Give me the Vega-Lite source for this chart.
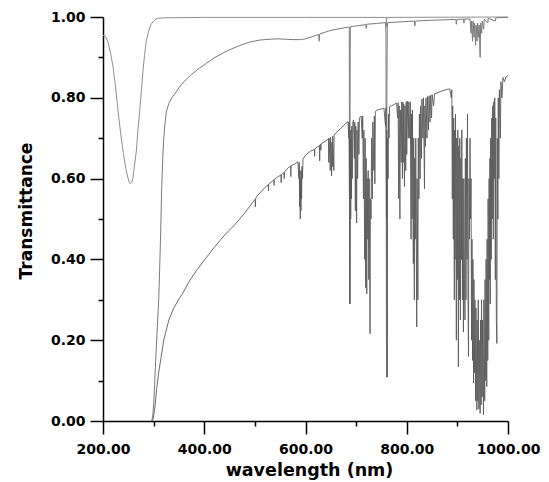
{
"$schema": "https://vega.github.io/schema/vega-lite/v6.json",
"width": 405, "height": 404,
"autosize": {"type": "none"},
"padding": {"left": 103, "top": 17, "right": 41, "bottom": 61},
"background": "white",
"config": {
 "view": {"stroke": null},
 "axis": {"labelFont": "DejaVu Sans", "labelFontWeight": "bold", "labelFontSize": 14, "labelColor": "black",
  "titleFont": "DejaVu Sans", "titleFontWeight": "bold", "titleFontSize": 17, "titleColor": "black",
  "domainColor": "black", "tickColor": "black", "domainWidth": 1.5, "tickWidth": 1.5, "grid": false}
},
"datasets": {
 "a": [
  {"x":200,"y":0.955},{"x":205,"y":0.952},{"x":210,"y":0.937},{"x":215,"y":0.91},{"x":220,"y":0.875},{"x":225,"y":0.825},{"x":230,"y":0.765},{"x":235,"y":0.71},{"x":240,"y":0.665},{"x":245,"y":0.625},{"x":249,"y":0.603},{"x":252,"y":0.59},{"x":254,"y":0.587},{"x":256,"y":0.59},{"x":259,"y":0.6},{"x":262,"y":0.63},{"x":266,"y":0.67},{"x":269,"y":0.72},{"x":272.5,"y":0.768},{"x":276,"y":0.82},{"x":279,"y":0.867},{"x":282,"y":0.905},{"x":285.6,"y":0.941},{"x":290,"y":0.965},{"x":295,"y":0.982},{"x":300,"y":0.99},{"x":305,"y":0.995},{"x":310,"y":0.997},{"x":320,"y":0.998},{"x":400,"y":0.999},{"x":600,"y":0.999},{"x":759.5,"y":0.999},{"x":760,"y":0.975},{"x":760.5,"y":0.999},{"x":1000,"y":1.0}
 ],
 "b": [
  {"x":296,"y":0},{"x":298,"y":0.01},{"x":300,"y":0.04},{"x":302,"y":0.09},{"x":304,"y":0.15},{"x":306,"y":0.2},{"x":308,"y":0.25},{"x":310,"y":0.3},{"x":312,"y":0.38},{"x":314,"y":0.47},{"x":316,"y":0.58},{"x":318,"y":0.65},{"x":320,"y":0.7},{"x":322,"y":0.73},{"x":325,"y":0.765},{"x":330,"y":0.786},{"x":336,"y":0.8},{"x":342,"y":0.81},{"x":350,"y":0.825},{"x":360,"y":0.84},{"x":375,"y":0.858},{"x":390,"y":0.873},{"x":405,"y":0.886},{"x":421,"y":0.9},{"x":445,"y":0.916},{"x":467,"y":0.928},{"x":490,"y":0.938},{"x":510,"y":0.943},{"x":530,"y":0.945},{"x":546,"y":0.946},{"x":560,"y":0.945},{"x":575,"y":0.944},{"x":590,"y":0.944},{"x":600,"y":0.946},{"x":615,"y":0.952},{"x":626,"y":0.957},{"x":627,"y":0.94},{"x":628,"y":0.958},{"x":650,"y":0.967},{"x":684,"y":0.975},{"x":686.5,"y":0.975},{"x":687.2,"y":0.29},{"x":687.8,"y":0.7},{"x":688.5,"y":0.976},{"x":700,"y":0.978},{"x":719,"y":0.981},{"x":720,"y":0.972},{"x":721,"y":0.982},{"x":740,"y":0.984},{"x":758,"y":0.986},{"x":759,"y":0.96},{"x":760,"y":0.108},{"x":760.7,"y":0.8},{"x":761.5,"y":0.975},{"x":762.5,"y":0.986},{"x":790,"y":0.988},{"x":815,"y":0.99},{"x":816,"y":0.978},{"x":817,"y":0.99},{"x":850,"y":0.992},{"x":897,"y":0.994},{"x":898,"y":0.982},{"x":899,"y":0.994},{"x":912,"y":0.995},{"x":913,"y":0.985},{"x":914,"y":0.995},{"x":925,"y":0.995},{"x":927,"y":0.96},{"x":928,"y":0.99},{"x":930,"y":0.94},{"x":931,"y":0.99},{"x":933,"y":0.95},{"x":934,"y":0.985},{"x":936,"y":0.93},{"x":937,"y":0.98},{"x":939,"y":0.94},{"x":940,"y":0.985},{"x":942,"y":0.95},{"x":943,"y":0.98},{"x":945,"y":0.9},{"x":946,"y":0.985},{"x":948,"y":0.96},{"x":949,"y":0.99},{"x":952,"y":0.97},{"x":953,"y":0.995},{"x":960,"y":0.985},{"x":961,"y":0.997},{"x":975,"y":0.99},{"x":976,"y":0.998},{"x":1000,"y":0.999}
 ],
 "c": [
  {"x":297,"y":0},{"x":299,"y":0.005},{"x":301,"y":0.02},{"x":303,"y":0.04},{"x":306,"y":0.08},{"x":310,"y":0.12},{"x":315,"y":0.16},{"x":320,"y":0.2},{"x":325,"y":0.225},{"x":330,"y":0.25},{"x":340,"y":0.28},{"x":350,"y":0.302},{"x":357,"y":0.315},{"x":370,"y":0.345},{"x":385,"y":0.373},{"x":400,"y":0.398},{"x":420,"y":0.43},{"x":440,"y":0.46},{"x":462,"y":0.488},{"x":480,"y":0.515},{"x":495,"y":0.54},
  {"x":500.5,"y":0.549},{"x":501,"y":0.53},{"x":501.5,"y":0.55},{"x":503,"y":0.555},{"x":520,"y":0.578},{"x":526.6,"y":0.585},{"x":527,"y":0.57},{"x":527.4,"y":0.586},{"x":537.6,"y":0.597},{"x":538,"y":0.583},{"x":538.4,"y":0.598},{"x":545,"y":0.604},{"x":551.6,"y":0.609},{"x":552,"y":0.59},{"x":552.4,"y":0.61},{"x":557.6,"y":0.615},{"x":558,"y":0.6},{"x":558.4,"y":0.616},{"x":566,"y":0.627},{"x":570.6,"y":0.631},{"x":571,"y":0.605},{"x":571.4,"y":0.632},{"x":580,"y":0.637},{"x":585,"y":0.642},
  {"x":587,"y":0.6},{"x":587.6,"y":0.64},{"x":588.5,"y":0.53},{"x":589,"y":0.62},{"x":589.6,"y":0.5},{"x":590.2,"y":0.6},{"x":591,"y":0.52},{"x":591.6,"y":0.62},{"x":592.3,"y":0.55},{"x":593,"y":0.63},{"x":594,"y":0.6},{"x":595,"y":0.648},{"x":600,"y":0.658},{"x":610,"y":0.668},
  {"x":617.6,"y":0.672},{"x":618,"y":0.655},{"x":618.4,"y":0.674},{"x":627.6,"y":0.682},{"x":628,"y":0.644},{"x":628.4,"y":0.683},{"x":630,"y":0.685},{"x":630.4,"y":0.67},{"x":630.8,"y":0.686},{"x":640,"y":0.693},{"x":645.6,"y":0.699},{"x":646,"y":0.64},{"x":646.5,"y":0.7},{"x":649,"y":0.62},{"x":649.5,"y":0.702},{"x":651.6,"y":0.607},{"x":652.2,"y":0.69},{"x":653,"y":0.63},{"x":653.7,"y":0.705},{"x":656,"y":0.62},{"x":656.5,"y":0.708},{"x":660,"y":0.713},{"x":670,"y":0.725},{"x":680,"y":0.737},{"x":684,"y":0.741},
  {"x":685.5,"y":0.7},{"x":686,"y":0.74},{"x":686.8,"y":0.55},{"x":687.3,"y":0.72},{"x":688,"y":0.29},{"x":688.6,"y":0.7},{"x":689.3,"y":0.5},{"x":690,"y":0.72},{"x":690.8,"y":0.55},{"x":691.5,"y":0.73},{"x":692.5,"y":0.6},{"x":693.5,"y":0.74},{"x":695,"y":0.745},{"x":696.5,"y":0.65},{"x":697.3,"y":0.74},{"x":698.5,"y":0.52},{"x":699.3,"y":0.73},{"x":701,"y":0.49},{"x":701.8,"y":0.72},{"x":703,"y":0.6},{"x":704,"y":0.74},{"x":705.5,"y":0.66},{"x":706.5,"y":0.75},{"x":708,"y":0.752},{"x":710,"y":0.755},
  {"x":712,"y":0.7},{"x":713,"y":0.755},{"x":714.5,"y":0.55},{"x":715.3,"y":0.72},{"x":717,"y":0.4},{"x":717.8,"y":0.7},{"x":719,"y":0.33},{"x":719.8,"y":0.65},{"x":721,"y":0.315},{"x":721.8,"y":0.6},{"x":723,"y":0.45},{"x":723.8,"y":0.62},{"x":725,"y":0.35},{"x":725.8,"y":0.6},{"x":727.5,"y":0.216},{"x":728.3,"y":0.55},{"x":729.5,"y":0.5},{"x":730.5,"y":0.7},{"x":732,"y":0.55},{"x":733,"y":0.74},{"x":735,"y":0.62},{"x":736,"y":0.755},{"x":737,"y":0.587},{"x":738,"y":0.765},{"x":740,"y":0.769},{"x":745,"y":0.771},
  {"x":755,"y":0.774},{"x":758,"y":0.73},{"x":759,"y":0.775},{"x":760,"y":0.5},{"x":760.6,"y":0.72},{"x":761.5,"y":0.109},{"x":762.2,"y":0.7},{"x":763,"y":0.6},{"x":764,"y":0.76},{"x":765,"y":0.7},{"x":766,"y":0.778},{"x":770,"y":0.78},{"x":780,"y":0.787},
  {"x":782,"y":0.75},{"x":783,"y":0.788},{"x":784,"y":0.55},{"x":785,"y":0.78},{"x":786.5,"y":0.5},{"x":787.3,"y":0.77},{"x":789,"y":0.64},{"x":790,"y":0.789},{"x":791.5,"y":0.6},{"x":792.3,"y":0.79},{"x":793,"y":0.64},{"x":794,"y":0.785},{"x":795.5,"y":0.58},{"x":796.5,"y":0.78},{"x":798,"y":0.62},{"x":799,"y":0.79},{"x":800,"y":0.66},{"x":801,"y":0.792},{"x":803,"y":0.7},{"x":804,"y":0.79},
  {"x":806,"y":0.7},{"x":807,"y":0.79},{"x":808.5,"y":0.45},{"x":809.3,"y":0.76},{"x":810.5,"y":0.5},{"x":811.2,"y":0.77},{"x":813,"y":0.39},{"x":813.7,"y":0.7},{"x":815,"y":0.3},{"x":815.7,"y":0.65},{"x":817,"y":0.45},{"x":817.8,"y":0.7},{"x":819.7,"y":0.233},{"x":820.4,"y":0.6},{"x":822,"y":0.3},{"x":822.8,"y":0.7},{"x":824,"y":0.55},{"x":825,"y":0.76},{"x":826.5,"y":0.6},{"x":827.5,"y":0.78},{"x":829,"y":0.65},{"x":830,"y":0.797},
  {"x":832,"y":0.7},{"x":833,"y":0.8},{"x":835,"y":0.575},{"x":835.8,"y":0.78},{"x":837,"y":0.68},{"x":838,"y":0.8},{"x":840,"y":0.7},{"x":841,"y":0.803},{"x":843,"y":0.72},{"x":844,"y":0.805},{"x":846,"y":0.74},{"x":847,"y":0.806},{"x":849,"y":0.75},{"x":850,"y":0.808},{"x":853,"y":0.78},{"x":855,"y":0.81},{"x":860,"y":0.812},{"x":870,"y":0.817},{"x":880,"y":0.821},{"x":885,"y":0.822},
  {"x":888,"y":0.8},{"x":889,"y":0.82},{"x":890,"y":0.55},{"x":890.8,"y":0.78},{"x":892,"y":0.45},{"x":892.7,"y":0.75},{"x":894,"y":0.3},{"x":894.7,"y":0.72},{"x":895.5,"y":0.4},{"x":896.3,"y":0.76},{"x":898,"y":0.2},{"x":898.7,"y":0.7},{"x":900,"y":0.35},{"x":900.8,"y":0.72},{"x":902,"y":0.134},{"x":902.8,"y":0.68},{"x":904,"y":0.3},{"x":904.8,"y":0.7},{"x":906,"y":0.25},{"x":906.8,"y":0.65},{"x":908,"y":0.4},{"x":908.8,"y":0.72},{"x":910,"y":0.3},{"x":910.8,"y":0.6},{"x":912,"y":0.22},{"x":912.8,"y":0.6},{"x":914,"y":0.35},{"x":915,"y":0.25},{"x":915.8,"y":0.65},{"x":917,"y":0.3},{"x":917.8,"y":0.7},{"x":919,"y":0.4},{"x":920,"y":0.76},{"x":921,"y":0.3},{"x":922,"y":0.16},{"x":922.8,"y":0.6},{"x":924,"y":0.45},{"x":925,"y":0.7},
  {"x":926,"y":0.5},{"x":927,"y":0.6},{"x":928,"y":0.2},{"x":928.8,"y":0.45},{"x":930,"y":0.15},{"x":930.7,"y":0.4},{"x":932,"y":0.094},{"x":932.7,"y":0.35},{"x":934,"y":0.12},{"x":934.7,"y":0.3},{"x":936,"y":0.05},{"x":936.7,"y":0.28},{"x":938.5,"y":0.027},{"x":939.2,"y":0.25},{"x":940.5,"y":0.05},{"x":941.2,"y":0.3},{"x":942.5,"y":0.03},{"x":943.2,"y":0.2},{"x":945,"y":0.019},{"x":945.7,"y":0.25},{"x":947,"y":0.04},{"x":947.7,"y":0.3},{"x":949,"y":0.06},{"x":949.7,"y":0.25},{"x":951.6,"y":0.015},{"x":952.3,"y":0.3},{"x":954,"y":0.05},{"x":954.7,"y":0.35},{"x":956,"y":0.1},{"x":956.7,"y":0.4},{"x":958,"y":0.085},{"x":958.7,"y":0.45},{"x":960,"y":0.15},{"x":960.7,"y":0.55},{"x":962,"y":0.2},{"x":962.7,"y":0.6},{"x":963.5,"y":0.35},{"x":964.3,"y":0.65},{"x":965,"y":0.29},{"x":965.8,"y":0.7},{"x":967,"y":0.4},{"x":967.8,"y":0.75},{"x":969,"y":0.5},{"x":969.8,"y":0.78},{"x":971,"y":0.45},{"x":971.8,"y":0.79},{"x":973,"y":0.6},{"x":973.8,"y":0.8},{"x":975,"y":0.35},{"x":975.8,"y":0.75},{"x":977,"y":0.25},{"x":978,"y":0.192},{"x":978.8,"y":0.7},{"x":980,"y":0.5},{"x":980.8,"y":0.8},{"x":982,"y":0.6},{"x":983,"y":0.82},{"x":985,"y":0.7},{"x":986,"y":0.84},{"x":988,"y":0.8},{"x":990,"y":0.85},{"x":993,"y":0.84},{"x":996,"y":0.852},{"x":1000,"y":0.855}
 ]
},
"resolve": {"axis": {"x": "independent", "y": "independent"}},
"layer": [
 {"data": {"name": "a"},
  "mark": {"type": "line", "color": "#8f8f8f", "strokeWidth": 1, "strokeJoin": "round"},
  "encoding": {
   "x": {"field": "x", "type": "quantitative", "scale": {"domain": [200, 1000], "nice": false, "zero": false},
    "axis": {"orient": "bottom", "values": [200, 400, 600, 800, 1000], "format": ".2f", "tickSize": 13, "labelPadding": 8, "labelFlush": false, "labelOverlap": false,
     "title": "wavelength (nm)", "titleFontSize": 17.5, "titleX": 206, "titleY": 54, "titleAlign": "center", "titleBaseline": "alphabetic"}},
   "y": {"field": "y", "type": "quantitative", "scale": {"domain": [0, 1], "nice": false, "zero": false},
    "axis": {"orient": "left", "values": [0, 0.2, 0.4, 0.6, 0.8, 1], "format": ".2f", "tickSize": 13, "labelPadding": 5, "labelFlush": false, "labelOverlap": false,
     "title": "Transmittance", "titleX": -72, "titleY": 193.5, "titleAngle": 270, "titleAlign": "center", "titleBaseline": "alphabetic"}}
  }},
 {"data": {"name": "b"},
  "mark": {"type": "line", "color": "#7a7a7a", "strokeWidth": 1, "strokeJoin": "round"},
  "encoding": {
   "x": {"field": "x", "type": "quantitative", "scale": {"domain": [200, 1000], "nice": false, "zero": false}, "axis": null},
   "y": {"field": "y", "type": "quantitative", "scale": {"domain": [0, 1], "nice": false, "zero": false}, "axis": null}
  }},
 {"data": {"name": "c"},
  "mark": {"type": "line", "color": "#5a5a5a", "strokeWidth": 0.9, "strokeJoin": "round"},
  "encoding": {
   "x": {"field": "x", "type": "quantitative", "scale": {"domain": [200, 1000], "nice": false, "zero": false}, "axis": null},
   "y": {"field": "y", "type": "quantitative", "scale": {"domain": [0, 1], "nice": false, "zero": false}, "axis": null}
  }},
 {"data": {"name": "a"},
  "mark": {"type": "line", "opacity": 0},
  "encoding": {
   "x": {"field": "x", "type": "quantitative", "scale": {"domain": [200, 1000], "nice": false, "zero": false},
    "axis": {"orient": "bottom", "values": [300, 500, 700, 900], "tickSize": 5, "labels": false, "domain": false, "title": null}},
   "y": {"field": "y", "type": "quantitative", "scale": {"domain": [0, 1], "nice": false, "zero": false},
    "axis": {"orient": "left", "values": [0.1, 0.3, 0.5, 0.7, 0.9], "tickSize": 5, "labels": false, "domain": false, "title": null}}
  }}
]
}
